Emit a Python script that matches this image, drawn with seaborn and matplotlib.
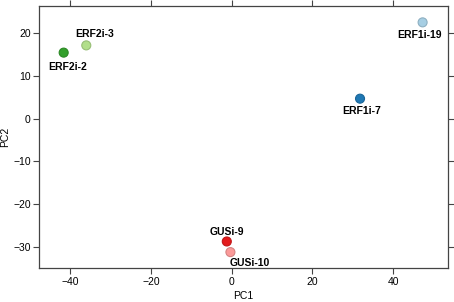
import matplotlib
matplotlib.use("Agg")
import matplotlib.pyplot as plt
import seaborn as sns
import pandas as pd
import numpy as np

# PCA scores
samples = ["ERF2i-2", "ERF2i-3", "ERF1i-19", "ERF1i-7", "GUSi-9", "GUSi-10"]
pc1 = [-41.6, -36.0, 47.3, 31.8, -1.2, -0.3]
pc2 = [15.5, 17.2, 22.6, 4.7, -28.8, -31.3]
colors = ["#33a02c", "#b2df8a", "#a6cee3", "#1f78b4", "#e31a1c", "#fb9a99"]
# label offsets (points) relative to each marker
label_offsets = [(3, -10), (6, 8), (-2, -9), (1, -9), (0, 7), (14, -8)]

df = pd.DataFrame({"sample": samples, "PC1": pc1, "PC2": pc2})

sns.set_style("white")
plt.rcParams["font.family"] = ["Liberation Sans", "DejaVu Sans"]
plt.rcParams["text.color"] = "black"
plt.rcParams["axes.labelcolor"] = "black"

fig = plt.figure(figsize=(4.54, 3.02), dpi=100)
ax = fig.add_axes([0.086, 0.1115, 0.9, 0.8695])

sns.scatterplot(data=df, x="PC1", y="PC2", hue="sample", palette=colors,
                s=42, linewidth=0.8, legend=False, ax=ax, zorder=3)

# slightly darker rim around each point, like the original
coll = ax.collections[0]
fc = coll.get_facecolors()
edges = [tuple(np.clip(np.array(c[:3]) * 0.85, 0, 1)) + (1,) for c in fc]
coll.set_edgecolors(edges)

for name, x, y, off in zip(samples, pc1, pc2, label_offsets):
    ax.annotate(name, (x, y), xytext=off, textcoords="offset points",
                ha="center", va="center", fontsize=7.5, fontweight="bold",
                color="black")

ax.set_xlim(-47.7, 53.5)
ax.set_ylim(-35.1, 26.5)
ax.set_xticks([-40, -20, 0, 20, 40])
ax.set_yticks([-30, -20, -10, 0, 10, 20])
ax.set_xticklabels(["\u221240", "\u221220", "0", "20", "40"])
ax.set_yticklabels(["\u221230", "\u221220", "\u221210", "0", "10", "20"])
ax.tick_params(axis="both", which="both", direction="out", length=4, width=0.8,
               color="#444444", labelcolor="black", labelsize=7.5, pad=2,
               top=True, right=True, bottom=True, left=True,
               labeltop=False, labelright=False)
for pos in ["left", "right", "top", "bottom"]:
    ax.spines[pos].set_visible(True)
    ax.spines[pos].set_color("#444444")
    ax.spines[pos].set_linewidth(0.9)

ax.set_xlabel("PC1", fontsize=7.5, labelpad=3)
ax.set_ylabel("PC2", fontsize=7.5, labelpad=2)

plt.savefig("out.png", dpi=100)
plt.close()
